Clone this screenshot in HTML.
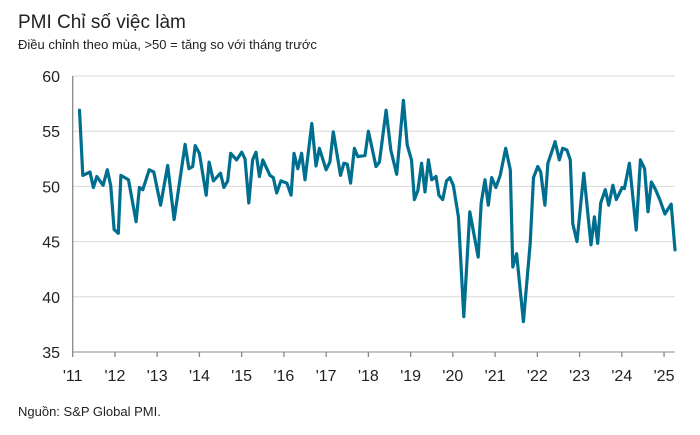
<!DOCTYPE html>
<html><head><meta charset="utf-8">
<style>
body{margin:0;width:700px;height:435px;background:#fff;font-family:"Liberation Sans",sans-serif;overflow:hidden}
svg{position:absolute;left:0;top:0}
</style></head>
<body>
<svg width="700" height="435">
<text x="18" y="28" font-size="19" fill="#222">PMI Chỉ số việc làm</text>
<text x="18" y="49" font-size="13" fill="#222">Điều chỉnh theo mùa, &gt;50 = tăng so với tháng trước</text>
<g id="grid"></g><g id="axes"></g><g id="series"></g>
<text x="18" y="416" font-size="13" fill="#222">Nguồn: S&amp;P Global PMI.</text>
</svg>
<script>
const yTicks=[35,40,45,50,55,60];
const xTickYears=[2011,2012,2013,2014,2015,2016,2017,2018,2019,2020,2021,2022,2023,2024,2025];
const xTickLabels=["'11","'12","'13","'14","'15","'16","'17","'18","'19","'20","'21","'22","'23","'24","'25"];
const dates=[2011.16,2011.24,2011.41,2011.49,2011.57,2011.72,2011.82,2011.9,2011.98,2012.08,2012.14,2012.32,2012.5,2012.58,2012.66,2012.81,2012.92,2013.08,2013.25,2013.4,2013.66,2013.75,2013.84,2013.9,2014.0,2014.16,2014.23,2014.33,2014.5,2014.58,2014.67,2014.74,2014.88,2015.0,2015.08,2015.17,2015.26,2015.34,2015.42,2015.5,2015.67,2015.75,2015.83,2015.93,2016.07,2016.17,2016.24,2016.33,2016.42,2016.5,2016.66,2016.76,2016.84,2017.0,2017.09,2017.17,2017.34,2017.42,2017.5,2017.58,2017.67,2017.75,2017.92,2018.0,2018.18,2018.26,2018.42,2018.53,2018.67,2018.83,2018.92,2019.02,2019.09,2019.17,2019.26,2019.34,2019.42,2019.5,2019.6,2019.67,2019.76,2019.85,2019.93,2020.01,2020.13,2020.26,2020.4,2020.6,2020.67,2020.76,2020.84,2020.92,2021.02,2021.12,2021.25,2021.36,2021.42,2021.51,2021.67,2021.83,2021.91,2022.01,2022.08,2022.18,2022.25,2022.42,2022.52,2022.6,2022.7,2022.78,2022.84,2022.94,2023.1,2023.27,2023.35,2023.43,2023.5,2023.61,2023.69,2023.79,2023.87,2024.01,2024.06,2024.18,2024.34,2024.44,2024.54,2024.62,2024.7,2024.8,2024.9,2025.02,2025.17,2025.26];
const values=[56.9,51.0,51.3,49.9,50.9,50.1,51.5,50.1,46.1,45.75,51.0,50.6,46.8,49.9,49.7,51.5,51.3,48.3,51.9,47.0,53.8,51.6,51.8,53.7,53.0,49.2,52.2,50.5,51.2,49.9,50.5,53.0,52.4,53.1,52.5,48.5,52.4,53.1,50.9,52.4,51.0,50.8,49.4,50.5,50.3,49.2,53.0,51.6,53.0,50.6,55.7,51.85,53.45,51.5,52.2,54.95,51.0,52.1,52.0,50.3,53.45,52.7,52.8,55.0,51.8,52.2,56.9,53.3,51.1,57.8,53.75,52.4,48.8,49.6,52.1,49.5,52.4,50.6,50.9,49.2,48.8,50.5,50.8,50.1,47.25,38.2,47.7,43.6,48.5,50.6,48.3,50.8,49.9,51.0,53.45,51.5,42.7,43.9,37.75,44.85,50.8,51.8,51.3,48.3,52.1,54.05,52.4,53.45,53.3,52.4,46.6,45.0,51.2,44.7,47.25,44.85,48.5,49.7,48.3,50.1,48.8,49.9,49.8,52.1,46.05,52.4,51.6,47.7,50.4,49.7,48.8,47.5,48.4,44.25];
const X0=72.7,X1=675,Y0=352,YT=76;
function xs(t){return X0+(t-2011)*42.24;}
function ys(v){return Y0-(v-35)*(Y0-YT)/25;}
const NS='http://www.w3.org/2000/svg';
const grid=document.getElementById('grid'),axes=document.getElementById('axes'),ser=document.getElementById('series');
function mk(tag,attrs,parent){const e=document.createElementNS(NS,tag);for(const k in attrs)e.setAttribute(k,attrs[k]);parent.appendChild(e);return e;}
yTicks.forEach(v=>{
  const l=mk('line',{x1:X0,x2:X1,y1:ys(v),y2:ys(v),stroke:v===35?'#888':'#d9d9d9','stroke-width':1},grid);
  
  
  const t=mk('text',{x:60,y:ys(v)+6,'text-anchor':'end','font-size':16,fill:'#222'},axes);
  t.textContent=v;
  
  
});
const ax=mk('line',{x1:X0,x2:X0,y1:YT,y2:Y0,stroke:'#888','stroke-width':1.3},axes);


xTickYears.forEach((yr,i)=>{
  const tk=mk('line',{x1:xs(yr),x2:xs(yr),y1:Y0,y2:Y0+5,stroke:'#888','stroke-width':1.3},axes);
  
  
  const t=mk('text',{x:xs(yr),y:Y0+29,'text-anchor':'middle','font-size':16,fill:'#222'},axes);
  t.textContent=xTickLabels[i];
  
  
});
const d=dates.map((t,i)=>(i?'L':'M')+xs(t).toFixed(1)+' '+ys(values[i]).toFixed(1)).join(' ');
const p=mk('path',{d:d,fill:'none',stroke:'#006f8f','stroke-width':3.2,'stroke-linejoin':'round','stroke-linecap':'round'},ser);


</script>
</body></html>
